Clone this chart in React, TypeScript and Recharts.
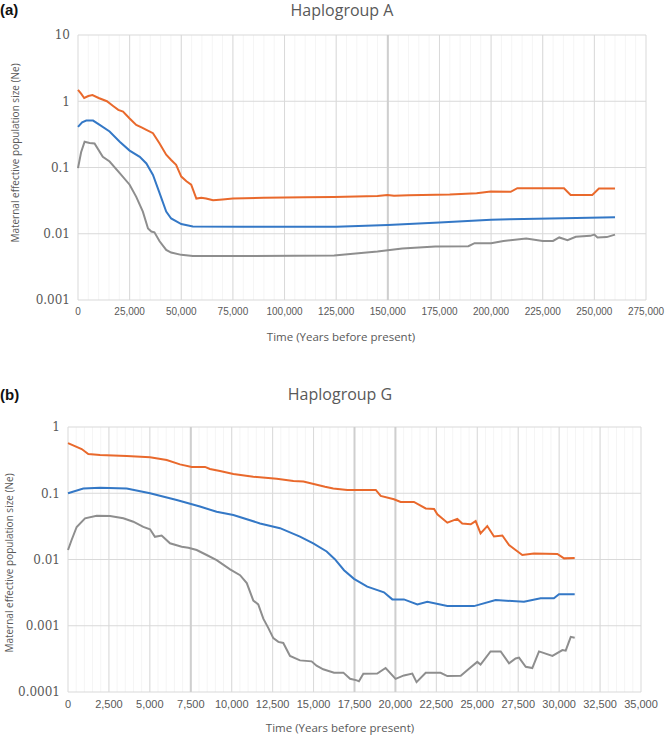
import { LineChart, Line, XAxis, YAxis, CartesianGrid } from 'recharts';

// ---- Haplogroup A ----
const ticksXA = [0, 25000, 50000, 75000, 100000, 125000, 150000, 175000, 200000, 225000, 250000, 275000];
const ticksYA = [0.001, 0.01, 0.1, 1, 10];

const orangeA_t = [0, 1500, 3000, 5000, 7000, 10000, 14000, 17000, 19500, 21800, 25000, 28200, 31000, 33100, 36300, 39500, 42700, 45100, 47500, 50000, 52500, 54800, 57300, 59700, 62000, 65400, 70000, 75000, 90000, 110000, 124000, 145000, 149800, 153000, 160000, 180000, 193000, 199800, 209500, 212700, 235300, 238500, 249000, 252200, 260000];
const orangeA_v = [1.48, 1.3, 1.12, 1.2, 1.24, 1.12, 1.0, 0.85, 0.74, 0.7, 0.55, 0.44, 0.4, 0.37, 0.33, 0.23, 0.156, 0.13, 0.11, 0.073, 0.062, 0.055, 0.034, 0.035, 0.034, 0.032, 0.033, 0.034, 0.035, 0.0355, 0.036, 0.037, 0.0385, 0.0375, 0.038, 0.039, 0.041, 0.0434, 0.043, 0.0487, 0.0487, 0.0386, 0.0386, 0.048, 0.048];

const blueA_t = [0, 2000, 4000, 7300, 10500, 15300, 20200, 25000, 29900, 33100, 36300, 39500, 42700, 45100, 50000, 55600, 80000, 125000, 150000, 175000, 200000, 209000, 235000, 260000];
const blueA_v = [0.41, 0.48, 0.51, 0.51, 0.44, 0.35, 0.245, 0.18, 0.145, 0.115, 0.077, 0.041, 0.0216, 0.017, 0.014, 0.0129, 0.0128, 0.0128, 0.0136, 0.0148, 0.0162, 0.0166, 0.0172, 0.0177];

const grayA_t = [0, 1500, 3200, 5600, 8000, 12000, 15300, 20200, 25000, 28200, 31400, 33900, 35500, 37000, 39500, 42700, 45100, 50000, 55600, 80000, 124000, 145000, 157000, 173000, 189000, 192000, 200000, 206000, 217000, 225000, 230000, 233000, 237000, 241000, 248000, 250000, 251500, 256000, 260000];
const grayA_v = [0.098, 0.17, 0.245, 0.235, 0.23, 0.145, 0.123, 0.082, 0.055, 0.036, 0.0216, 0.012, 0.0108, 0.0105, 0.0077, 0.0057, 0.0052, 0.0048, 0.0046, 0.0046, 0.0047, 0.0054, 0.006, 0.0064, 0.0065, 0.0072, 0.0072, 0.0078, 0.0085, 0.0078, 0.0078, 0.0088, 0.008, 0.009, 0.0093, 0.0097, 0.0088, 0.0089, 0.0097];

// ---- Haplogroup G ----
const ticksXG = [0, 2500, 5000, 7500, 10000, 12500, 15000, 17500, 20000, 22500, 25000, 27500, 30000, 32500, 35000];
const ticksYG = [0.0001, 0.001, 0.01, 0.1, 1];

const orangeG_t = [0, 835, 1240, 1955, 3585, 5010, 6030, 6840, 7555, 8370, 8670, 9285, 10100, 11320, 12750, 13770, 14380, 15700, 16200, 17060, 18800, 19100, 19910, 20320, 21130, 21850, 22360, 22560, 23170, 23780, 24080, 24600, 24900, 25200, 25610, 26020, 26530, 26940, 27340, 27750, 28460, 29890, 30300, 30950];
const orangeG_v = [0.57, 0.465, 0.39, 0.378, 0.365, 0.35, 0.318, 0.273, 0.25, 0.25, 0.232, 0.217, 0.195, 0.178, 0.165, 0.153, 0.15, 0.125, 0.118, 0.112, 0.112, 0.091, 0.081, 0.074, 0.074, 0.059, 0.058, 0.048, 0.036, 0.041, 0.035, 0.034, 0.038, 0.0248, 0.032, 0.0222, 0.023, 0.0165, 0.0139, 0.0117, 0.0123, 0.0121, 0.0104, 0.0105];

const blueG_t = [0, 935, 1955, 3585, 5010, 6640, 8060, 9080, 10100, 11730, 12950, 14170, 14980, 15800, 16300, 16860, 17470, 18280, 19300, 19810, 20520, 21340, 21950, 23170, 24800, 26120, 27850, 28870, 29680, 29990, 30950];
const blueG_v = [0.1, 0.118, 0.121, 0.118, 0.1, 0.079, 0.063, 0.0525, 0.047, 0.035, 0.0297, 0.0222, 0.0175, 0.0132, 0.0101, 0.0069, 0.0051, 0.0039, 0.0032, 0.0025, 0.0025, 0.0021, 0.0023, 0.00198, 0.00198, 0.00245, 0.0023, 0.0026, 0.0026, 0.003, 0.003];

const grayG_t = [0, 220, 530, 1040, 1750, 2565, 3380, 3990, 4600, 5010, 5310, 5720, 6230, 6945, 7350, 7860, 8470, 9080, 9900, 10510, 10920, 11320, 11620, 11930, 12240, 12540, 12850, 13150, 13560, 14170, 14880, 15180, 15590, 16250, 16820, 17230, 17640, 17770, 18040, 18890, 19400, 20010, 20520, 21030, 21290, 21850, 22760, 23170, 23990, 24600, 25000, 25200, 25810, 26430, 26940, 27340, 27550, 27960, 28360, 28770, 29590, 30200, 30400, 30710, 30950];
const grayG_v = [0.0139, 0.0197, 0.031, 0.0418, 0.0458, 0.0455, 0.042, 0.0372, 0.031, 0.0286, 0.022, 0.023, 0.0176, 0.0156, 0.015, 0.0139, 0.0117, 0.0098, 0.0071, 0.0058, 0.0044, 0.0024, 0.0021, 0.00128, 0.00092, 0.00065, 0.00057, 0.00055, 0.00035, 0.0003, 0.00029, 0.00025, 0.00022, 0.000195, 0.000196, 0.000158, 0.00015, 0.000145, 0.000189, 0.00019, 0.00023, 0.000158, 0.000178, 0.00019, 0.000141, 0.000195, 0.000195, 0.000174, 0.000176, 0.000236, 0.000285, 0.00026, 0.00041, 0.00041, 0.00027, 0.00032, 0.00033, 0.00024, 0.00023, 0.00041, 0.00035, 0.00043, 0.00042, 0.00068, 0.00066];

const ORANGE = '#e9692c';
const BLUE = '#3478c6';
const GRAY = '#8e8e8e';
const TEXT = '#595959';

const pts = (t: number[], v: number[]) => t.map((x, i) => ({ t: x, v: v[i] }));

// faint minor gridlines, like the Excel original
const minorA: number[] = [];
for (let x = 5000; x < 275000; x += 5000) minorA.push(x);
const minorG: number[] = [];
for (let x = 500; x < 35000; x += 500) minorG.push(x);

const fmtX = (v: number) => v.toLocaleString('en-US');
const fmtY = (v: number) => String(v);

const xTick = { fontFamily: '"Liberation Sans", Arial, sans-serif', fontSize: 10, fill: TEXT };
const xTickG = { fontFamily: '"Liberation Sans", Arial, sans-serif', fontSize: 11, fill: TEXT };
const yTick = { fontFamily: '"DejaVu Serif", serif', fontSize: 12, fill: TEXT };

const label = (text: string, style: React.CSSProperties) => (
  <div style={{ position: 'absolute', whiteSpace: 'nowrap', lineHeight: 1.2, ...style }}>{text}</div>
);

export default function App() {
  const sans = '"Open Sans", Arial, sans-serif';
  return (
    <div style={{ position: 'absolute', left: 0, top: 0, width: 669, height: 735, background: '#fff', overflow: 'hidden' }}>
      {/* (a) */}
      <div style={{ position: 'absolute', left: 0, top: 0 }}>
        <LineChart width={669} height={335} margin={{ top: 35, right: 23, bottom: 5, left: 0 }}>
          <CartesianGrid horizontal={false} verticalValues={minorA} stroke="#f5f5f5" />
          <CartesianGrid stroke="#d9d9d9" />
          <CartesianGrid horizontal={false} verticalValues={[150000]} stroke="#cfcfcf" strokeWidth={2} />
          <XAxis type="number" dataKey="t" domain={[0, 275000]} ticks={ticksXA} interval={0} tickFormatter={fmtX}
            axisLine={false} tickLine={false} tick={xTick} height={30} />
          <YAxis type="number" scale="log" domain={[0.001, 10]} ticks={ticksYA} interval={0} allowDataOverflow
            tickFormatter={fmtY} axisLine={false} tickLine={false} tick={yTick} width={78} />
          <Line data={pts(grayA_t, grayA_v)} dataKey="v" stroke={GRAY} strokeWidth={2} dot={false} isAnimationActive={false} />
          <Line data={pts(blueA_t, blueA_v)} dataKey="v" stroke={BLUE} strokeWidth={2} dot={false} isAnimationActive={false} />
          <Line data={pts(orangeA_t, orangeA_v)} dataKey="v" stroke={ORANGE} strokeWidth={2} dot={false} isAnimationActive={false} />
        </LineChart>
      </div>
      {label('(a)', { left: 0, top: 1, fontFamily: '"Liberation Sans", Arial, sans-serif', fontWeight: 'bold', fontSize: 15, color: '#111' })}
      {label('Haplogroup A', { left: 342, top: 11, transform: 'translate(-50%, -50%)', fontFamily: sans, fontSize: 16, color: TEXT })}
      {label('Maternal effective population size (Ne)', { left: 15, top: 153, transform: 'translate(-50%, -50%) rotate(-90deg)', fontFamily: sans, fontSize: 10, color: TEXT })}
      {label('Time (Years before present)', { left: 341, top: 337, transform: 'translate(-50%, -50%)', fontFamily: sans, fontSize: 11.5, color: TEXT })}

      {/* (b) */}
      <div style={{ position: 'absolute', left: 0, top: 370 }}>
        <LineChart width={669} height={365} margin={{ top: 57, right: 28, bottom: 13, left: 0 }}>
          <CartesianGrid horizontal={false} verticalValues={minorG} stroke="#f5f5f5" />
          <CartesianGrid stroke="#d9d9d9" />
          <CartesianGrid horizontal={false} verticalValues={[7500, 17500, 20000]} stroke="#cfcfcf" strokeWidth={2} />
          <XAxis type="number" dataKey="t" domain={[0, 35000]} ticks={ticksXG} interval={0} tickFormatter={fmtX}
            axisLine={false} tickLine={false} tick={xTickG} height={30} />
          <YAxis type="number" scale="log" domain={[0.0001, 1]} ticks={ticksYG} interval={0} allowDataOverflow
            tickFormatter={fmtY} axisLine={false} tickLine={false} tick={yTick} width={68} />
          <Line data={pts(grayG_t, grayG_v)} dataKey="v" stroke={GRAY} strokeWidth={2} dot={false} isAnimationActive={false} />
          <Line data={pts(blueG_t, blueG_v)} dataKey="v" stroke={BLUE} strokeWidth={2} dot={false} isAnimationActive={false} />
          <Line data={pts(orangeG_t, orangeG_v)} dataKey="v" stroke={ORANGE} strokeWidth={2} dot={false} isAnimationActive={false} />
        </LineChart>
      </div>
      {label('(b)', { left: 0, top: 386, fontFamily: '"Liberation Sans", Arial, sans-serif', fontWeight: 'bold', fontSize: 15, color: '#111' })}
      {label('Haplogroup G', { left: 340, top: 395, transform: 'translate(-50%, -50%)', fontFamily: sans, fontSize: 16, color: TEXT })}
      {label('Maternal effective population size (Ne)', { left: 9, top: 563, transform: 'translate(-50%, -50%) rotate(-90deg)', fontFamily: sans, fontSize: 10, color: TEXT })}
      {label('Time (Years before present)', { left: 340, top: 728, transform: 'translate(-50%, -50%)', fontFamily: sans, fontSize: 11.5, color: TEXT })}
    </div>
  );
}
